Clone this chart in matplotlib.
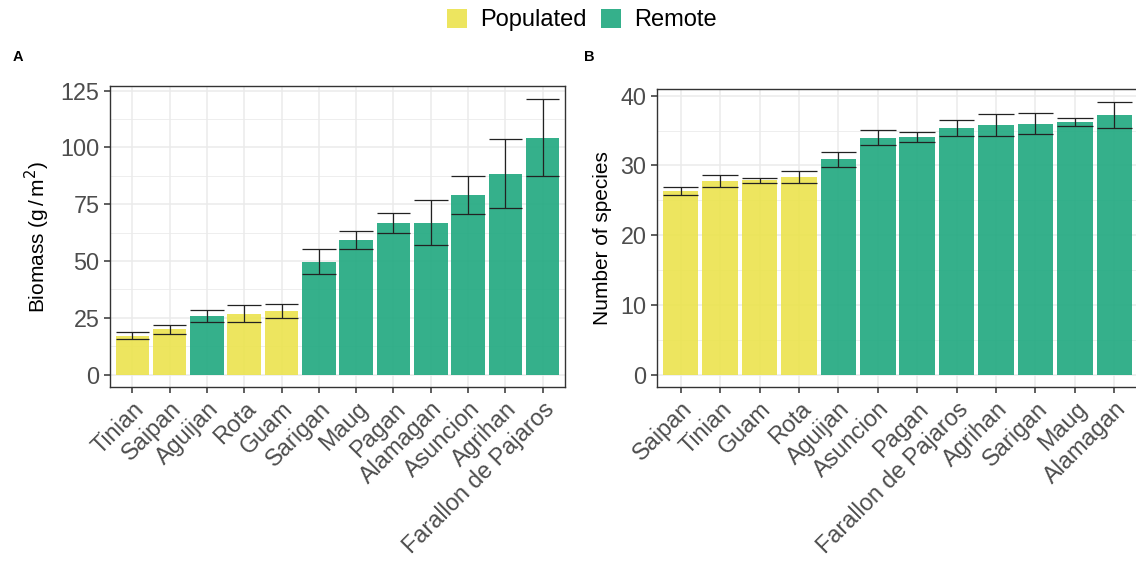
import matplotlib
matplotlib.use("Agg")
import matplotlib.pyplot as plt
from matplotlib.patches import Patch
import numpy as np

plt.rcParams['font.family'] = ['Liberation Sans', 'DejaVu Sans']

# fish biomass by island (mean +/- SE)
biomass_islands = ["Tinian", "Saipan", "Aguijan", "Rota", "Guam", "Sarigan", "Maug",
                   "Pagan", "Alamagan", "Asuncion", "Agrihan", "Farallon de Pajaros"]
biomass_mean = [17.1, 20.0, 25.7, 26.9, 27.9, 49.8, 59.4, 66.7, 66.9, 79.1, 88.5, 104.3]
biomass_se = [1.5, 2.0, 2.7, 3.6, 3.0, 5.5, 4.0, 4.4, 10.0, 8.2, 15.0, 16.8]
biomass_group = ["Populated", "Populated", "Remote", "Populated", "Populated", "Remote",
                 "Remote", "Remote", "Remote", "Remote", "Remote", "Remote"]

# species richness by island (mean +/- SE)
species_islands = ["Saipan", "Tinian", "Guam", "Rota", "Aguijan", "Asuncion", "Pagan",
                   "Farallon de Pajaros", "Agrihan", "Sarigan", "Maug", "Alamagan"]
species_mean = [26.35, 27.75, 27.85, 28.3, 30.9, 33.95, 34.1, 35.4, 35.8, 35.95, 36.25, 37.25]
species_se = [0.6, 0.85, 0.4, 0.85, 1.07, 1.07, 0.7, 1.17, 1.58, 1.5, 0.62, 1.82]
species_group = ["Populated", "Populated", "Populated", "Populated", "Remote", "Remote",
                 "Remote", "Remote", "Remote", "Remote", "Remote", "Remote"]

colors = {"Populated": "#EBE34D", "Remote": "#1FA87F"}
grid_col = "#EBEBEB"
tick_col = "#4D4D4D"


def bar_panel(ax, names, means, ses, groups, ylim, yticks, ylabel):
    x = np.arange(len(names))
    ax.set_axisbelow(True)
    ax.bar(x, means, width=0.9, color=[colors[g] for g in groups], alpha=0.9,
           linewidth=0, zorder=2)
    m = np.array(means)
    s = np.array(ses)
    ax.vlines(x, m - s, m + s, color="#222222", linewidth=0.9, zorder=3)
    ax.hlines(m - s, x - 0.45, x + 0.45, color="#222222", linewidth=0.9, zorder=3)
    ax.hlines(m + s, x - 0.45, x + 0.45, color="#222222", linewidth=0.9, zorder=3)

    ax.set_xlim(-0.6, len(names) - 0.4)
    ax.set_ylim(*ylim)
    ax.set_yticks(yticks)
    ax.set_yticks([(a + b) / 2 for a, b in zip(yticks[:-1], yticks[1:])], minor=True)
    ax.set_xticks(x)
    ax.set_xticklabels(names, rotation=45, ha="right", va="top", rotation_mode="anchor")
    ax.grid(True, which="major", color=grid_col, linewidth=1.1)
    ax.grid(True, which="minor", axis="y", color=grid_col, linewidth=0.6)
    ax.tick_params(which="major", direction="out", length=4.5, width=1.1, color="#333333",
                   labelsize=16.8, labelcolor=tick_col, pad=3)
    ax.tick_params(which="minor", length=0)
    for sp in ax.spines.values():
        sp.set_color("#333333")
        sp.set_linewidth(1.0)
    ax.set_ylabel(ylabel, fontsize=15, color="black", labelpad=6)


fig = plt.figure(figsize=(11.36, 5.62), dpi=100)
ax1 = fig.add_axes([110 / 1136, 175 / 562, 455 / 1136, 301 / 562])
ax2 = fig.add_axes([657 / 1136, 175 / 562, 481 / 1136, 298 / 562])

bar_panel(ax1, biomass_islands, biomass_mean, biomass_se, biomass_group,
          (-5.4, 127.0), [0, 25, 50, 75, 100, 125], r"Biomass (g$\,$/$\,$m$^2$)")
bar_panel(ax2, species_islands, species_mean, species_se, species_group,
          (-1.76, 40.96), [0, 10, 20, 30, 40], "Number of species")

fig.text(13 / 1136, 1 - 61 / 562, "A", fontsize=10.5, fontweight="bold")
fig.text(584 / 1136, 1 - 61 / 562, "B", fontsize=10.5, fontweight="bold")

handles = [Patch(facecolor=colors[k], alpha=0.9, edgecolor="none", label=k)
           for k in ["Populated", "Remote"]]
fig.legend(handles=handles, loc="upper center", bbox_to_anchor=(0.512, 1.022), ncol=2,
           frameon=False, fontsize=17, handlelength=0.85, handleheight=0.85,
           handletextpad=0.55, columnspacing=0.6)

fig.savefig("out.png", dpi=100)
